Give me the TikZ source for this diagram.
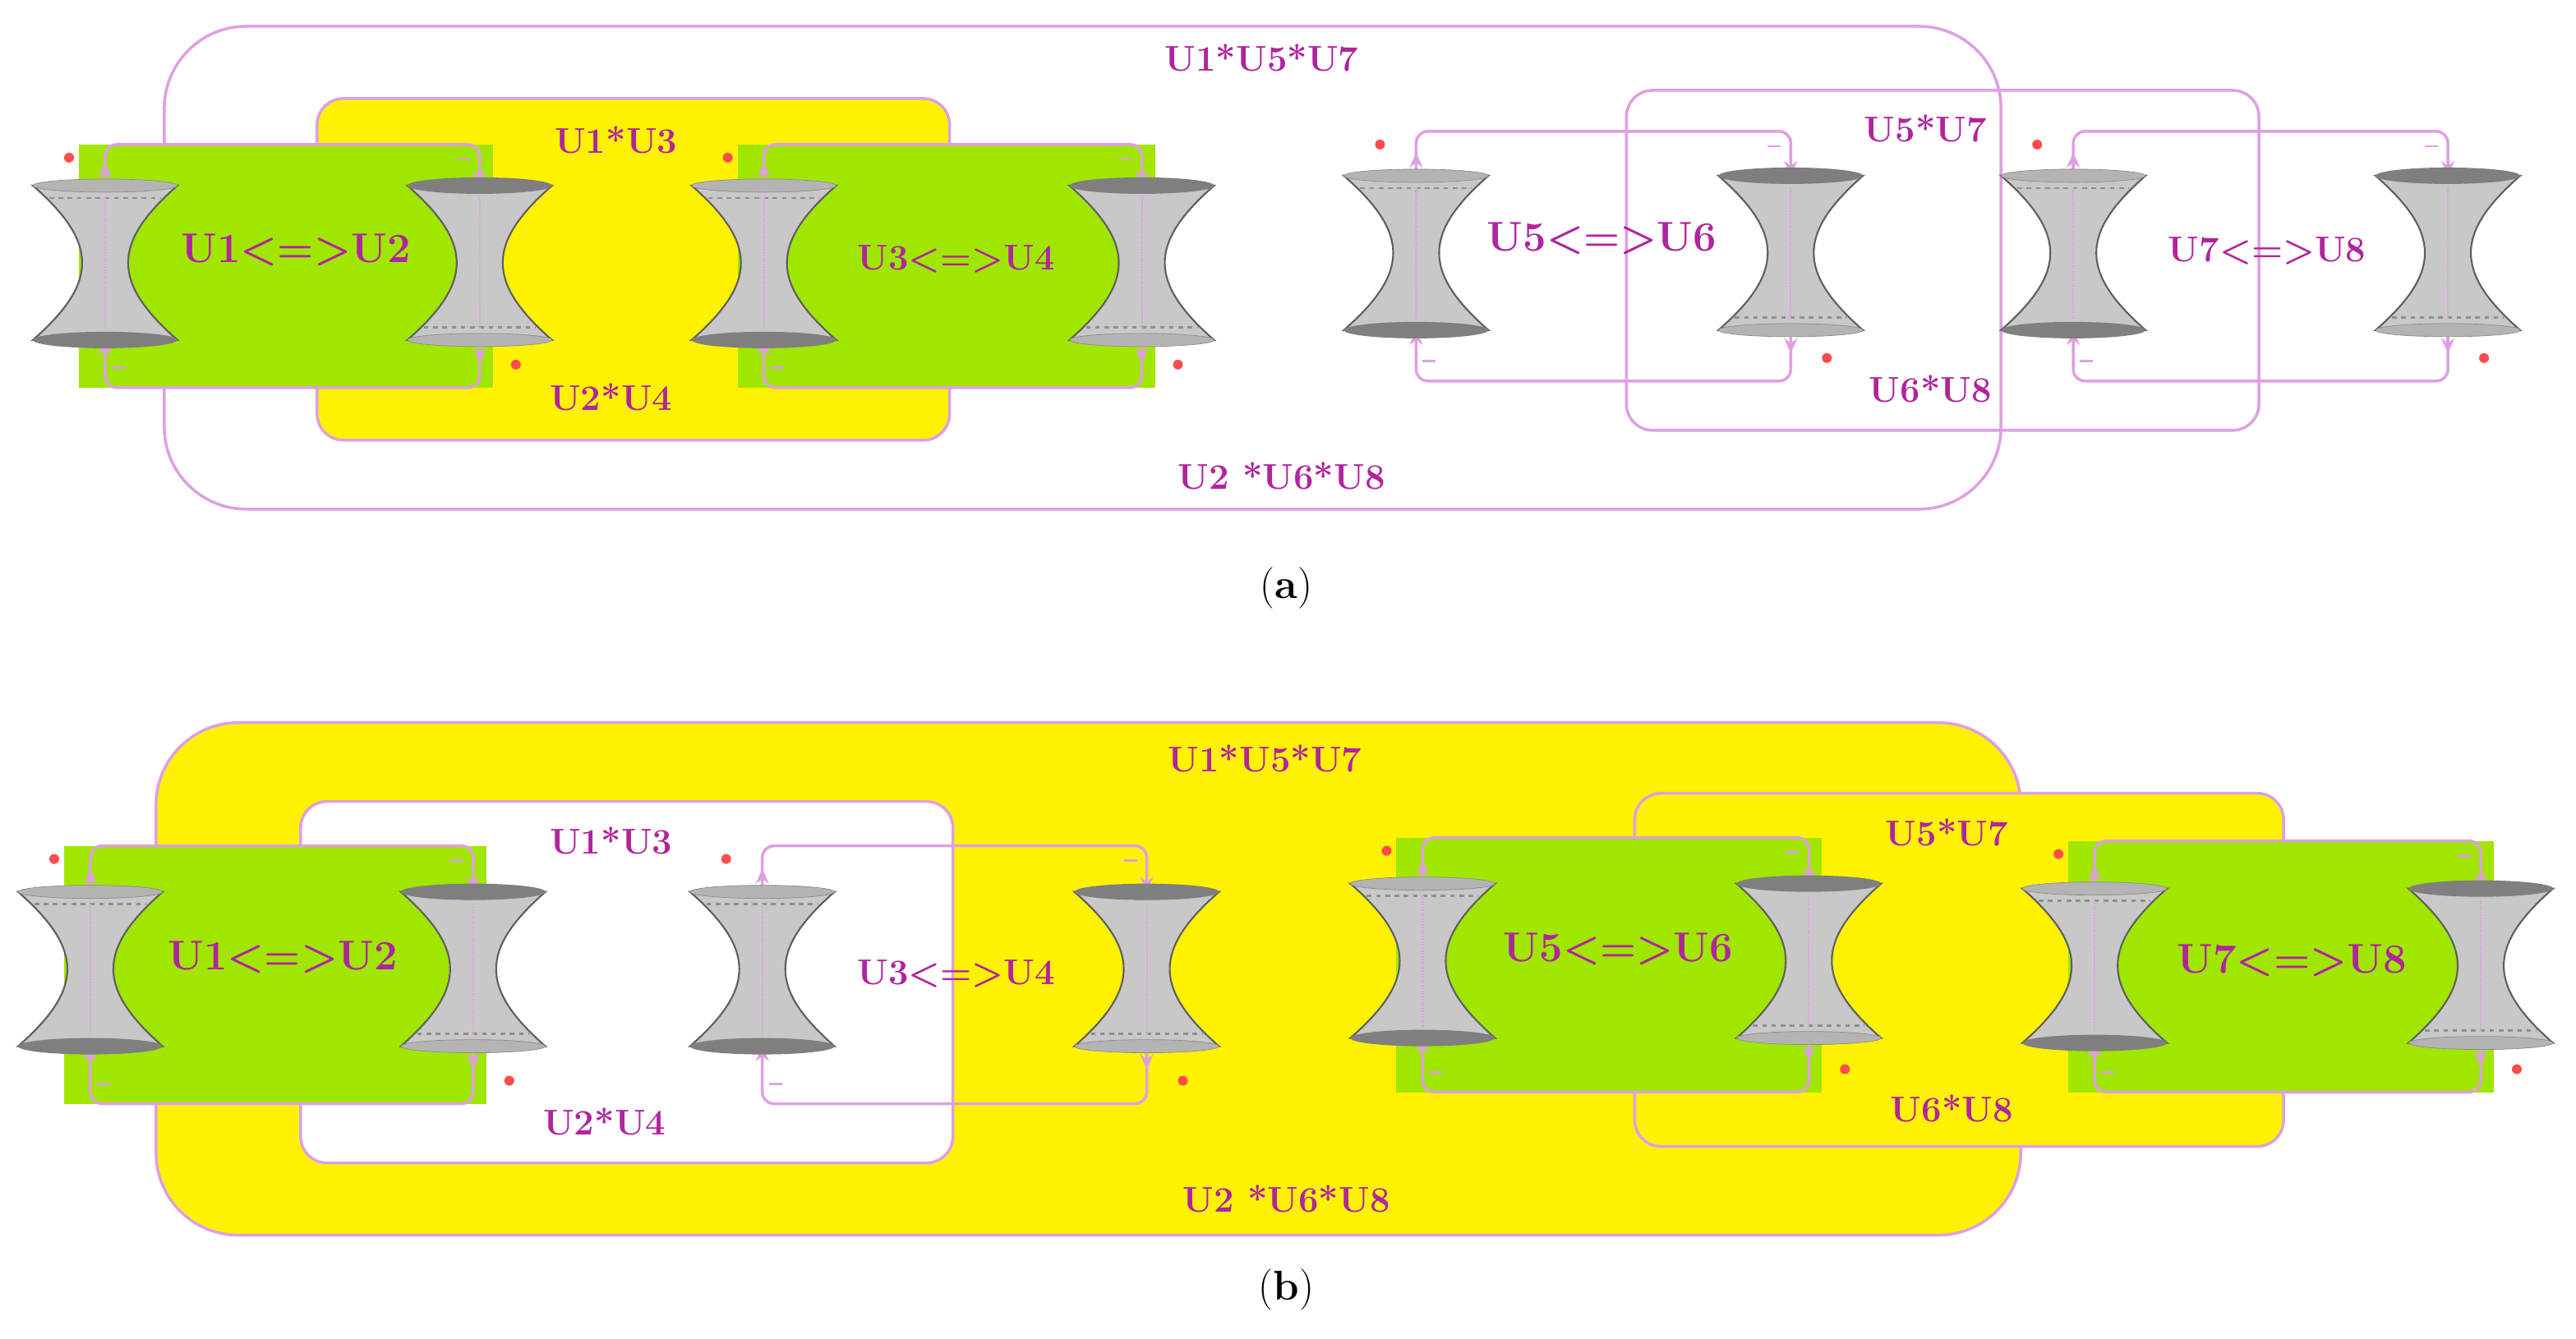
\documentclass[tikz,border=0pt]{standalone}
\usetikzlibrary{arrows.meta}
\definecolor{tx}{RGB}{176,36,158}
\definecolor{fr}{RGB}{222,160,226}
\definecolor{gr}{RGB}{160,230,0}
\definecolor{ye}{RGB}{255,242,0}
\definecolor{hgf}{RGB}{200,200,200}
\definecolor{hge}{RGB}{95,95,95}
\newcommand\hgbody[2]{%
  \fill[hgf,draw=hge,line width=3pt] (-44,-47) .. controls (-4,-12) and (-4,12) .. (-44,47) -- (44,47) .. controls (4,12) and (4,-12) .. (44,-47) -- cycle;
  \fill[hge!80] (0,#1) ellipse (44 and 5);
  \fill[hgf!90!black,draw=hgf!70!black,line width=1pt] (0,#2) ellipse (44 and 4);
  \draw[hge!70,dash pattern=on 8pt off 8pt,line width=4pt] (-34,{#2*0.84}) -- (34,{#2*0.84});
  \draw[fr,dotted,line width=3pt] (0,-40) -- (0,40);}
\tikzset{
  x=0.1cm,y=-0.1cm,
  pics/hgL/.style={code={\hgbody{47}{-47}}},
  pics/hgR/.style={code={\hgbody{-47}{47}}},
  conn/.style={fr,line width=5pt,rounded corners=20pt,-{Stealth[length=0.9cm,width=0.8cm]}},
  frm/.style={fr,line width=5pt},
  lbl/.style={text=tx,font=\bfseries\fontsize{62}{70}\selectfont},
  big/.style={text=tx,font=\bfseries\fontsize{72}{80}\selectfont},
  captxt/.style={font=\fontsize{72}{80}\selectfont},
  plus/.style={fill=red!70,draw=none},
}
\newcommand\pairloop[6]{%
  \coordinate (#1Lt) at (#2,#4-47); \coordinate (#1Lb) at (#2,#4+47);
  \coordinate (#1Rt) at (#3,#4-47); \coordinate (#1Rb) at (#3,#4+47);
  \coordinate (#1a) at (#2,#5); \coordinate (#1b) at (#3,#5);
  \coordinate (#1c) at (#3,#6); \coordinate (#1d) at (#2,#6);
  \draw[conn] (#1Lt) -- (#1a) -- (#1b) -- (#1Rt);
  \draw[conn] (#1Rb) -- (#1c) -- (#1d) -- (#1Lb);
  \draw[conn] (#1Lt) -- ++(0,-14);
  \draw[conn] (#1Rb) -- ++(0,14);
  \pic at (#2,#4) {hgL};
  \pic at (#3,#4) {hgR};
  \fill[plus] (#2-22,#5+8) circle (3);
  \fill[plus] (#3+22,#6-14) circle (3);
  \draw[fr,line width=4pt] (#3-14,#5+9) -- ++(8,0);
  \draw[fr,line width=4pt] (#2+4,#6-12) -- ++(8,0);}
\newcommand\greenbox[4]{\fill[gr] (#1-16,#3) rectangle (#2+8,#4);}
\begin{document}
\begin{tikzpicture}
\useasboundingbox[fill=white] (0,0) rectangle (1568,815);
% ---------- (a)
\draw[frm,rounded corners=5cm] (100,16) rectangle (1218,310);
\filldraw[ye,draw=fr,line width=5pt,rounded corners=1.6cm] (193,60) rectangle (578,268);
\draw[frm,rounded corners=1.6cm] (990,55) rectangle (1375,262);
\greenbox{64}{292}{88}{236}
\greenbox{465}{695}{88}{236}
\pairloop{pa1}{64}{292}{160}{88}{236}
\pairloop{pa2}{465}{695}{160}{88}{236}
\pairloop{pa3}{862}{1090}{154}{80}{232}
\pairloop{pa4}{1262}{1490}{154}{80}{232}
\node[lbl] (a1) at (768,35) {U1*U5*U7};
\node[lbl] (a2) at (780,290) {U2 *U6*U8};
\node[lbl] (a3) at (375,85) {U1*U3};
\node[lbl] (a4) at (372,242) {U2*U4};
\node[lbl] (a5) at (1172,78) {U5*U7};
\node[lbl] (a6) at (1175,237) {U6*U8};
\node[big] (a7) at (180,152) {U1<=>U2};
\node[lbl] (a8) at (582,158) {U3<=>U4};
\node[big] (a9) at (975,145) {U5<=>U6};
\node[lbl] (a10) at (1380,153) {U7<=>U8};
\node[captxt] (capa) at (783,358) {(\textbf{a})};
% ---------- (b)
\filldraw[ye,draw=fr,line width=5pt,rounded corners=5cm] (95,440) rectangle (1230,752);
\filldraw[white,draw=fr,line width=5pt,rounded corners=1.6cm] (183,488) rectangle (580,708);
\filldraw[ye,draw=fr,line width=5pt,rounded corners=1.6cm] (995,483) rectangle (1390,698);
\greenbox{55}{288}{515}{672}
\greenbox{866}{1101}{510}{665}
\greenbox{1275}{1510}{512}{665}
\pairloop{pb1}{55}{288}{590}{515}{672}
\pairloop{pb2}{464}{698}{590}{515}{672}
\pairloop{pb3}{866}{1101}{585}{510}{665}
\pairloop{pb4}{1275}{1510}{588}{512}{665}
\node[lbl] (b1) at (770,462) {U1*U5*U7};
\node[lbl] (b2) at (783,730) {U2 *U6*U8};
\node[lbl] (b3) at (372,512) {U1*U3};
\node[lbl] (b4) at (368,683) {U2*U4};
\node[lbl] (b5) at (1185,507) {U5*U7};
\node[lbl] (b6) at (1188,675) {U6*U8};
\node[big] (b7) at (172,583) {U1<=>U2};
\node[lbl] (b8) at (582,593) {U3<=>U4};
\node[big] (b9) at (985,578) {U5<=>U6};
\node[big] (b10) at (1395,585) {U7<=>U8};
\node[captxt] (capb) at (783,785) {(\textbf{b})};
\end{tikzpicture}
\end{document}
